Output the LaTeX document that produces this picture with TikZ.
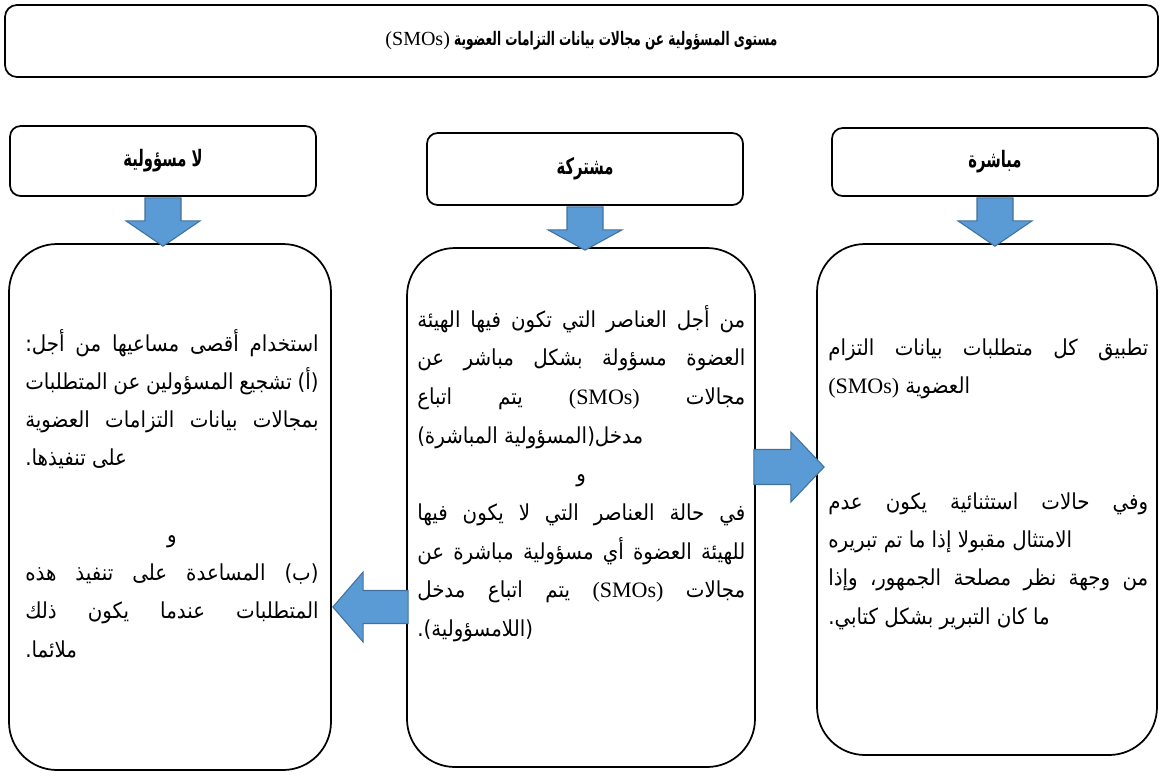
\documentclass[tikz,border=0pt]{standalone}
\usepackage{fontspec}
\usetikzlibrary{calc}
\TeXXeTstate=1
\newfontfamily\arabicfont[Script=Arabic, FakeStretch=0.9]{DejaVu Sans}
\newfontfamily\arabichead[Script=Arabic, FakeStretch=0.65]{DejaVu Sans Bold}
\newfontfamily\latinfont{Liberation Serif}
\definecolor{arrowfill}{HTML}{5B9BD5}
\definecolor{arrowline}{HTML}{41719C}

% width of the text column of the current box
\newdimen\tw
% justified line, left-aligned last line, centred line (all right to left)
\newcommand\J[1]{\hbox to \tw{\beginR\spaceskip=.22em plus 1fill\xspaceskip=\spaceskip #1\endR}}
\newcommand\Lf[1]{\hbox to \tw{\beginR #1\endR\hfil}}
\newcommand\Cn[1]{\hbox to \tw{\hfil\beginR #1\endR\hfil}}
\newcommand\smos{{\latinfont(SMOs)}}

\tikzset{
  titlebox/.style={draw, line width=1.3pt, rounded corners=9pt, fill=white, inner sep=0pt},
  headbox/.style={draw, line width=1.3pt, rounded corners=8pt, fill=white, inner sep=0pt,
    font=\arabichead\fontsize{17}{20}\selectfont},
  bodybox/.style={draw, line width=1.3pt, rounded corners=36pt, fill=white, inner sep=0pt},
  blockarrow/.style={fill=arrowfill, draw=arrowline, line width=0.8pt, line join=miter},
  bodytext/.style={inner sep=0pt, anchor=base west, font=\arabicfont\fontsize{16.5}{20}\selectfont},
}

\begin{document}
\begin{tikzpicture}[x=0.75pt, y=-0.75pt]
  \useasboundingbox (0,0) rectangle (1161,776);
  \fill[white] (0,0) rectangle (1161,776);

  % title
  \node[titlebox, minimum width=864.75pt, minimum height=54pt,
        font=\arabichead\fontsize{14}{16}\selectfont] (title) at (581.5,41)
        {\beginR مستوى المسؤولية عن مجالات بيانات التزامات العضوية {\fontsize{15}{16}\selectfont\smos}\endR};

  % column headers
  \node[headbox, minimum width=229.5pt, minimum height=52.5pt] (hL) at (163,161) {\beginR لا مسؤولية\endR};
  \node[headbox, minimum width=237pt, minimum height=54pt] (hM) at (585,169) {\beginR مشتركة\endR};
  \node[headbox, minimum width=244.5pt, minimum height=51pt] (hR) at (995,162) {\beginR مباشرة\endR};

  % column bodies
  \node[bodybox, minimum width=241.5pt, minimum height=394.5pt] (bL) at (170,507) {};
  \node[bodybox, minimum width=261pt, minimum height=389.25pt] (bM) at (581,507.5) {};
  \node[bodybox, minimum width=255pt, minimum height=383.25pt] (bR) at (987,499.5) {};

  % block arrows from each header down to its body
  \foreach \h/\b in {hL/bL, hM/bM, hR/bR}{
    \path[blockarrow] ($(\h.south)+(-18,1)$) -- ($(\h.south)+(18,1)$) -- ($(\h.south)+(18,24)$)
      -- ($(\h.south)+(37,24)$) -- ($(\h.south |- \b.north)+(0,3)$) -- ($(\h.south)+(-37,24)$)
      -- ($(\h.south)+(-18,24)$) -- cycle;
  }

  % side arrows out of the middle column
  \coordinate (ra) at (0,467);
  \coordinate (la) at (0,607);
  \path[blockarrow] ($(bM.east |- ra)+(-2,-17.5)$) -- ($(bM.east |- ra)+(35,-17.5)$)
    -- ($(bM.east |- ra)+(35,-35)$) -- ($(bR.west |- ra)+(8,0)$) -- ($(bM.east |- ra)+(35,35)$)
    -- ($(bM.east |- ra)+(35,17.5)$) -- ($(bM.east |- ra)+(-2,17.5)$) -- cycle;
  \path[blockarrow] ($(bM.west |- la)+(2,-16.5)$) -- ($(bM.west |- la)+(-43,-16.5)$)
    -- ($(bM.west |- la)+(-43,-35)$) -- ($(bL.east |- la)+(1,0)$) -- ($(bM.west |- la)+(-43,35)$)
    -- ($(bM.west |- la)+(-43,16.5)$) -- ($(bM.west |- la)+(2,16.5)$) -- cycle;

  % column texts
  \node[bodytext] (tL) at (25,351) {\tw=220pt\vtop{\baselineskip=28.7pt
    \J{استخدام أقصى مساعيها من أجل:}
    \J{(أ) تشجيع المسؤولين عن المتطلبات}
    \J{بمجالات بيانات التزامات العضوية}
    \Lf{على تنفيذها.}
    \vskip 28.7pt
    \Cn{و}
    \J{(ب) المساعدة على تنفيذ هذه}
    \J{المتطلبات عندما يكون ذلك}
    \Lf{ملائما.}}};

  \node[bodytext] (tM) at (417,327) {\tw=246pt\vtop{\baselineskip=29pt
    \J{من أجل العناصر التي تكون فيها الهيئة}
    \J{العضوة مسؤولة بشكل مباشر عن}
    \J{مجالات \smos{} يتم اتباع}
    \Lf{مدخل(المسؤولية المباشرة)}
    \Cn{و}
    \J{في حالة العناصر التي لا يكون فيها}
    \J{للهيئة العضوة أي مسؤولية مباشرة عن}
    \J{مجالات \smos{} يتم اتباع مدخل}
    \Lf{(اللامسؤولية).}}};

  \node[bodytext] (tR) at (828,355) {\tw=240pt\vtop{\baselineskip=28.7pt
    \J{تطبيق كل متطلبات بيانات التزام}
    \Lf{العضوية \smos{}}
    \vskip 58.3pt
    \J{وفي حالات استثنائية يكون عدم}
    \Lf{الامتثال مقبولا إذا ما تم تبريره}
    \J{من وجهة نظر مصلحة الجمهور، وإذا}
    \Lf{ما كان التبرير بشكل كتابي.}}};
\end{tikzpicture}
\end{document}
